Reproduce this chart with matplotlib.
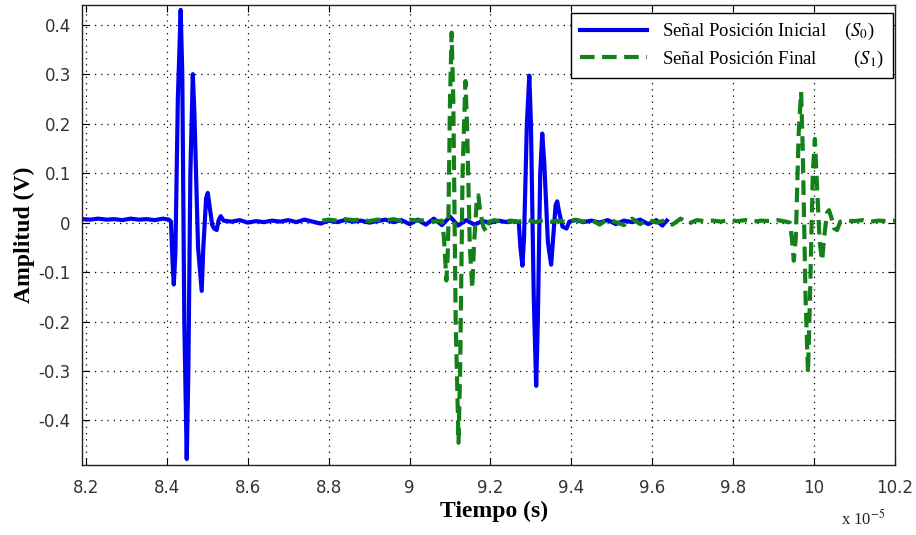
import matplotlib
matplotlib.use("Agg")
import matplotlib.pyplot as plt

# time in units of 1e-5 s, amplitude in V
t_s0 = [8.19, 8.21, 8.23, 8.25, 8.27, 8.29, 8.31, 8.33, 8.35, 8.37, 8.39, 8.405,
        8.410, 8.414, 8.417, 8.421, 8.427, 8.434, 8.438, 8.443, 8.449, 8.453,
        8.458, 8.464, 8.468, 8.477, 8.486, 8.490, 8.497, 8.501, 8.506, 8.512,
        8.517, 8.523, 8.528, 8.533, 8.54, 8.56, 8.58, 8.60, 8.62, 8.64, 8.66,
        8.68, 8.70, 8.72, 8.74, 8.76, 8.78, 8.80, 8.82, 8.84, 8.86, 8.88, 8.90,
        8.92, 8.94, 8.96, 8.98, 9.00, 9.02, 9.04, 9.06, 9.08, 9.10, 9.12, 9.14,
        9.16, 9.18, 9.20, 9.22, 9.24, 9.26, 9.27, 9.274, 9.279, 9.283, 9.290,
        9.296, 9.300, 9.307, 9.313, 9.317, 9.323, 9.328, 9.333, 9.342, 9.350,
        9.355, 9.361, 9.365, 9.370, 9.378, 9.388, 9.395, 9.41, 9.43, 9.45, 9.47,
        9.49, 9.51, 9.53, 9.55, 9.57, 9.59, 9.61, 9.625, 9.636]
v_s0 = [0.007, 0.006, 0.008, 0.006, 0.007, 0.005, 0.008, 0.006, 0.007, 0.005, 0.008, 0.006,
        0.002, -0.08, -0.125, -0.06, 0.25, 0.43, 0.30, -0.20, -0.478, -0.30,
        0.10, 0.30, 0.22, -0.05, -0.138, -0.05, 0.05, 0.06, 0.03, -0.005,
        -0.012, -0.015, 0.005, 0.013, 0.004, 0.002, 0.005, 0.0, 0.003, 0.001, 0.004,
        0.002, 0.005, 0.001, 0.006, 0.002, -0.002, 0.004, 0.001, 0.005, 0.002, 0.004, 0.0,
        0.003, 0.006, 0.001, 0.005, -0.003, 0.006, -0.004, 0.008, -0.005, 0.012, -0.006, 0.005,
        -0.004, 0.003, 0.0, 0.004, 0.001, 0.003, 0.0, -0.05, -0.087, -0.03, 0.20,
        0.297, 0.20, -0.15, -0.33, -0.20, 0.10, 0.18, 0.12, -0.04, -0.085,
        -0.03, 0.035, 0.043, 0.02, -0.008, -0.012, 0.002, 0.005, 0.001, 0.004, 0.0,
        0.005, -0.003, 0.004, 0.001, 0.006, -0.003, 0.005, -0.006, 0.004]

t_s1 = [8.784, 8.80, 8.82, 8.84, 8.86, 8.88, 8.90, 8.92, 8.94, 8.96, 8.98, 9.00,
        9.02, 9.04, 9.06, 9.08, 9.085, 9.091, 9.095, 9.100, 9.104, 9.108, 9.114,
        9.121, 9.125, 9.131, 9.138, 9.142, 9.149, 9.155, 9.159, 9.166, 9.170,
        9.175, 9.183, 9.19, 9.197, 9.21, 9.23, 9.25, 9.27, 9.29, 9.31, 9.33, 9.35,
        9.37, 9.39, 9.41, 9.43, 9.45, 9.47, 9.49, 9.51, 9.53, 9.55, 9.57, 9.59,
        9.61, 9.63, 9.65, 9.67, 9.69, 9.71, 9.73, 9.75, 9.77, 9.79, 9.81, 9.83,
        9.85, 9.87, 9.89, 9.91, 9.93, 9.94, 9.945, 9.950, 9.955, 9.962, 9.968,
        9.972, 9.979, 9.985, 9.990, 9.997, 10.002, 10.007, 10.014, 10.020, 10.025,
        10.032, 10.037, 10.043, 10.050, 10.057, 10.065, 10.08, 10.10, 10.12,
        10.14, 10.16, 10.18, 10.20]
v_s1 = [0.004, 0.006, 0.004, 0.007, 0.005, 0.006, 0.003, 0.006, 0.004, 0.007, 0.003, 0.006,
        0.004, 0.005, 0.002, 0.004, -0.03, -0.117, -0.05, 0.25, 0.384, 0.25, -0.20,
        -0.445, -0.30, 0.10, 0.286, 0.20, -0.05, -0.133, -0.05, 0.045, 0.055,
        0.02, -0.01, -0.018, 0.002, 0.005, 0.001, 0.004, 0.002, 0.006, 0.001, 0.005, 0.002,
        0.004, 0.0, 0.006, 0.002, 0.005, -0.004, 0.007, 0.001, -0.005, 0.008, -0.003, 0.006,
        0.0, 0.004, -0.004, 0.008, -0.002, 0.005, 0.003, 0.004, 0.002, 0.005, 0.003, 0.005,
        0.002, 0.004, 0.003, 0.005, 0.002, 0.0, -0.03, -0.077, -0.03, 0.18, 0.264,
        0.15, -0.15, -0.304, -0.15, 0.10, 0.169, 0.08, -0.04, -0.077, -0.03,
        0.02, 0.025, 0.01, -0.012, -0.015, 0.002, 0.004, 0.003, 0.005,
        0.002, 0.004, 0.003, 0.004]

x_ticks = [8.2, 8.4, 8.6, 8.8, 9.0, 9.2, 9.4, 9.6, 9.8, 10.0, 10.2]
x_labels = ["8.2", "8.4", "8.6", "8.8", "9", "9.2", "9.4", "9.6", "9.8", "10", "10.2"]
y_ticks = [-0.4, -0.3, -0.2, -0.1, 0.0, 0.1, 0.2, 0.3, 0.4]
y_labels = ["-0.4", "-0.3", "-0.2", "-0.1", "0", "0.1", "0.2", "0.3", "0.4"]

plt.rcParams['mathtext.fontset'] = 'stix'
plt.rcParams['axes.unicode_minus'] = False

fig = plt.figure(figsize=(9.16, 5.35), dpi=100)
ax = fig.add_axes([0.0895, 0.1308, 0.8875, 0.86])

ax.plot(t_s0, v_s0, color='#0000f0', lw=3.0, label='Señal Posición Inicial    ($S_0$)')
ax.plot(t_s1, v_s1, color='#13801a', lw=3.0, ls=(0, (3.5, 1.8)),
        label='Señal Posición Final        ($S_1$)')

ax.set_xlim(8.19, 10.2)
ax.set_ylim(-0.49, 0.44)
ax.set_xticks(x_ticks)
ax.set_xticklabels(x_labels)
ax.set_yticks(y_ticks)
ax.set_yticklabels(y_labels)
ax.tick_params(direction='in', length=5, width=0.8, top=True, right=True,
               labelsize=12, labelcolor='#333333')
ax.tick_params(axis='x', pad=10)
ax.tick_params(axis='y', pad=8)
for sp in ax.spines.values():
    sp.set_linewidth(1.0)
    sp.set_color('#222222')
ax.grid(True, color='black', ls=(0, (1, 4)), lw=0.9)

ax.set_xlabel('Tiempo (s)', family='Liberation Serif', fontweight='bold', fontsize=17)
ax.set_ylabel('Amplitud (V)', family='Liberation Serif', fontweight='bold', fontsize=17)
ax.xaxis.set_label_coords(0.507, -0.078)
ax.yaxis.set_label_coords(-0.058, 0.5)

fig.text(0.918, 0.02, r'x 10$^{-5}$', family='Liberation Serif', fontsize=12, color='#222222')

leg = ax.legend(loc='upper right', bbox_to_anchor=(0.9975, 0.983), borderaxespad=0,
                fancybox=False, framealpha=1, edgecolor='black', handlelength=3.6,
                borderpad=0.45, labelspacing=0.35,
                prop={'family': 'Liberation Serif', 'size': 13.5})
leg.get_frame().set_linewidth(1.0)

fig.savefig('out.png', dpi=100)
